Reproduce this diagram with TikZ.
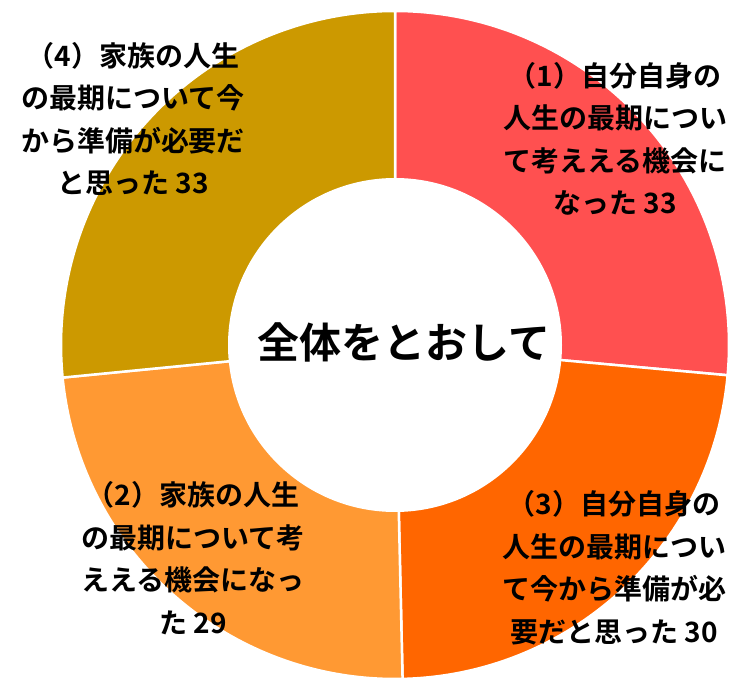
\documentclass[tikz,border=0pt]{standalone}
\usepackage{fontspec}
\setmainfont{Noto Sans CJK JP}[BoldFont={* Bold}]
\usepackage{tikz}
\usetikzlibrary{calc, positioning}
\usepackage{xcolor}
\definecolor{myred}{HTML}{FF5050}
\definecolor{myorange}{HTML}{FF6600}
\definecolor{mylight}{HTML}{FF9933}
\definecolor{mygold}{HTML}{CC9900}
\tikzset{
  slice/.style={draw=white, line width=2.5pt, line join=miter},
  lab/.style={align=center, font=\bfseries\fontsize{28}{42.5}\selectfont, inner sep=0pt}
}

\begin{document}
\begin{tikzpicture}[x=1pt, y=1pt]
			\useasboundingbox (0,0) rectangle (734,678);
			\coordinate (ctr) at (395,333);
			% slices: (1) 33, (3) 30, (2) 29, (4) 33
			\foreach \a/\b/\c in {90/-5.2/myred, -5.2/-88.7/myorange, -88.7/-174.4/mylight, -174.4/-270/mygold}{
				\filldraw[slice, fill=\c] (ctr) -- ($(ctr)+(\a:334)$) arc[start angle=\a, end angle=\b, radius=334pt] -- cycle;
			}
			\fill[white] (ctr) circle[radius=167pt];
			\node[font=\bfseries\fontsize{42}{42}\selectfont, inner sep=0pt] (title) at (404,336) {全体をとおして};
			\node[lab] (lab1) at (615,539) {（1）自分自身の\\人生の最期につい\\て考ええる機会に\\なった 33};
			\node[lab] (lab3) at (614,110) {（3）自分自身の\\人生の最期につい\\て今から準備が必\\要だと思った 30};
			\node[lab] (lab2) at (193,120) {（2）家族の人生\\の最期について考\\ええる機会になっ\\た 29};
			\node[lab] (lab4) at (133,559) {（4）家族の人生\\の最期について今\\から準備が必要だ\\と思った 33};
		\end{tikzpicture}
\end{document}
